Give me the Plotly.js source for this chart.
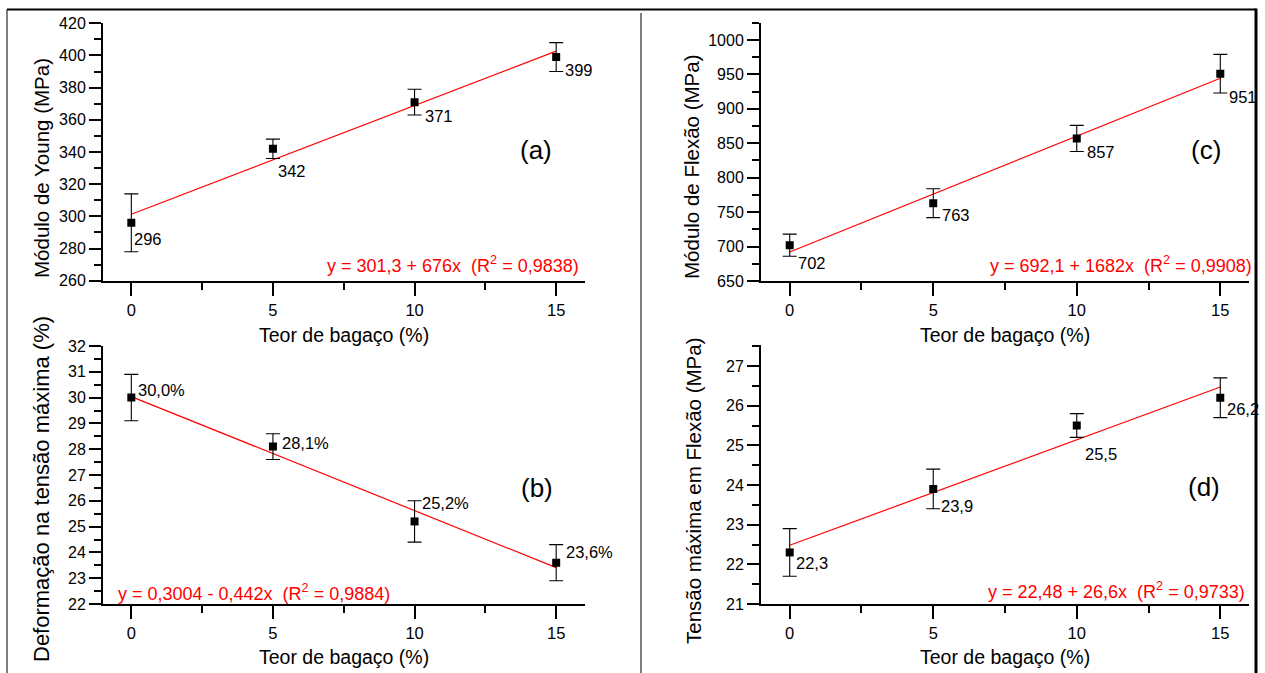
<!DOCTYPE html>
<html>
<head>
<meta charset="utf-8">
<script src="https://cdn.plot.ly/plotly-3.0.1.min.js"></script>
<style>html,body{margin:0;padding:0;background:#fff;}#chart{width:1265px;height:673px;}</style>
</head>
<body>
<div id="chart"></div>
<script>
// ---------- data ----------
const bagasse = [0, 5, 10, 15];              // Teor de bagaço (%)
const youngVals = [296, 342, 371, 399];      // (a) Módulo de Young (MPa)
const youngErr = [18, 6, 8, 9];
const strainVals = [30.0, 28.1, 25.2, 23.6]; // (b) Deformação na tensão máxima (%)
const strainErr = [0.9, 0.5, 0.8, 0.7];
const flexModVals = [702, 763, 857, 951];    // (c) Módulo de Flexão (MPa)
const flexModErr = [16, 21, 19, 28];
const flexStrVals = [22.3, 23.9, 25.5, 26.2];// (d) Tensão máxima em Flexão (MPa)
const flexStrErr = [0.6, 0.5, 0.3, 0.5];

const fitX = [0, 15];
const youngFit = [301.3, 402.7];
const strainFit = [30.04, 23.41];
const flexModFit = [692.1, 944.4];
const flexStrFit = [22.48, 26.47];

const xTickVals = [0, 5, 10, 15];
const eqA = 'y = 301,3 + 676x\u00A0\u00A0(R<sup>2</sup> = 0,9838)';
const eqB = 'y = 0,3004 - 0,442x\u00A0\u00A0(R<sup>2</sup> = 0,9884)';
const eqC = 'y = 692,1 + 1682x\u00A0\u00A0(R<sup>2</sup> = 0,9908)';
const eqD = 'y = 22,48 + 26,6x\u00A0\u00A0(R<sup>2</sup> = 0,9733)';
const xTitle = 'Teor de bagaço (%)';
const yTitleA = 'Módulo de Young (MPa)';
const yTitleB = 'Deformação na tensão máxima (%)';
const yTitleC = 'Módulo de Flexão (MPa)';
const yTitleD = 'Tensão máxima em Flexão (MPa)';

// ---------- layout helpers ----------
const W = 1265, H = 673;
const px = v => v / W;
const py = v => 1 - v / H;
const FONT = 'Liberation Sans, Arial, sans-serif';
const fmt = (v, d) => v.toFixed(d).replace('.', ',');

// label offsets in pixels (dx right, dy down) from each point
const shiftA = [[3, 16], [5, 22], [10, 14], [9, 13]];
const shiftB = [[7, -8], [9, -4], [7, -18], [10, -11]];
const shiftC = [[8, 18], [9, 12], [10, 14], [9, 23]];
const shiftD = [[6, 11], [8, 17], [8, 28], [7, 11]];

const panels = [
  {xa: 'x', ya: 'y', vals: youngVals, err: youngErr, fit: youngFit, lab: youngVals.map(v => fmt(v, 0)), sh: shiftA},
  {xa: 'x2', ya: 'y2', vals: flexModVals, err: flexModErr, fit: flexModFit, lab: flexModVals.map(v => fmt(v, 0)), sh: shiftC},
  {xa: 'x3', ya: 'y3', vals: strainVals, err: strainErr, fit: strainFit, lab: strainVals.map(v => fmt(v, 1) + '%'), sh: shiftB},
  {xa: 'x4', ya: 'y4', vals: flexStrVals, err: flexStrErr, fit: flexStrFit, lab: flexStrVals.map(v => fmt(v, 1)), sh: shiftD}
];

const traces = [];
const annotations = [];
panels.forEach(p => {
  traces.push({x: fitX, y: p.fit, xaxis: p.xa, yaxis: p.ya, mode: 'lines',
    line: {color: '#ff0000', width: 1.2}, hoverinfo: 'skip'});
  traces.push({x: bagasse, y: p.vals, xaxis: p.xa, yaxis: p.ya, mode: 'markers',
    marker: {symbol: 'square', size: 8, color: '#000'},
    error_y: {type: 'data', array: p.err, visible: true, color: '#000', thickness: 1.1, width: 7}});
  p.vals.forEach((v, i) => {
    annotations.push({xref: p.xa, yref: p.ya, x: bagasse[i], y: v, text: p.lab[i],
      showarrow: false, xanchor: 'left', yanchor: 'middle',
      xshift: p.sh[i][0] - 2, yshift: -p.sh[i][1],
      font: {family: FONT, size: 16.5, color: '#000'}});
  });
});

function ann(text, x, y, xanchor, size, color, angle) {
  annotations.push({xref: 'paper', yref: 'paper', x: px(x), y: py(y), text: text,
    showarrow: false, xanchor: xanchor, yanchor: 'middle', textangle: angle || 0,
    font: {family: FONT, size: size, color: color}});
}
// equations
ann(eqA, 581, 265, 'right', 18, '#ff0000');
ann(eqB, 116, 592, 'left', 18, '#ff0000');
ann(eqC, 1254, 265, 'right', 18, '#ff0000');
ann(eqD, 1247, 590, 'right', 18, '#ff0000');
// panel letters
ann('(a)', 536, 150, 'center', 26, '#000');
ann('(b)', 537, 488, 'center', 26, '#000');
ann('(c)', 1206, 150, 'center', 26, '#000');
ann('(d)', 1204, 487, 'center', 26, '#000');
// axis titles
ann(xTitle, 344, 335, 'center', 19.5, '#000');
ann(xTitle, 344, 657, 'center', 19.5, '#000');
ann(xTitle, 1005, 335, 'center', 19.5, '#000');
ann(xTitle, 1005, 657, 'center', 19.5, '#000');
ann(yTitleA, 41, 168, 'center', 20.5, '#000', -90);
ann(yTitleB, 41, 489, 'center', 22, '#000', -90);
ann(yTitleC, 691, 167, 'center', 20.5, '#000', -90);
ann(yTitleD, 693, 491, 'center', 20.5, '#000', -90);

function xAxis(dom, anchor) {
  return {domain: dom, anchor: anchor, range: [-1, 16], tickvals: xTickVals,
    showline: true, linewidth: 2, linecolor: '#000', ticks: 'outside', ticklen: 13, tickwidth: 2, tickcolor: '#000',
    minor: {dtick: 2.5, tick0: 0, ticks: 'outside', ticklen: 7, tickwidth: 2, tickcolor: '#000'},
    showgrid: false, zeroline: false, tickfont: {family: FONT, size: 16.5, color: '#000'}, fixedrange: true};
}
function yAxis(dom, anchor, range, dtick, mdtick) {
  return {domain: dom, anchor: anchor, range: range, dtick: dtick, tick0: range[0],
    showline: true, linewidth: 2, linecolor: '#000', ticks: 'outside', ticklen: 12, tickwidth: 2, tickcolor: '#000',
    minor: {dtick: mdtick, tick0: range[0], ticks: 'outside', ticklen: 7, tickwidth: 2, tickcolor: '#000'},
    showgrid: false, zeroline: false, tickfont: {family: FONT, size: 16, color: '#000'}, fixedrange: true};
}

const leftDom = [px(103), px(584.5)];
const rightDom = [px(761), px(1249)];
const shapes = [
  {type: 'line', xref: 'paper', yref: 'paper', x0: px(7), x1: px(1256), y0: py(9.5), y1: py(9.5), line: {color: '#000', width: 2}},
  {type: 'line', xref: 'paper', yref: 'paper', x0: px(7), x1: px(7), y0: py(9.5), y1: py(673), line: {color: '#000', width: 1}},
  {type: 'line', xref: 'paper', yref: 'paper', x0: px(641), x1: px(641), y0: py(13), y1: py(673), line: {color: '#000', width: 1}},
  {type: 'line', xref: 'paper', yref: 'paper', x0: px(1256), x1: px(1256), y0: py(8.5), y1: py(673), line: {color: '#000', width: 3}}
];

const layout = {
  width: W, height: H, margin: {l: 0, r: 0, t: 0, b: 0, pad: 0},
  paper_bgcolor: '#fff', plot_bgcolor: 'rgba(0,0,0,0)', showlegend: false,
  font: {family: FONT, color: '#000'},
  xaxis: xAxis(leftDom, 'y'),
  yaxis: yAxis([py(280.7), py(23.3)], 'x', [260, 420], 20, 10),
  xaxis2: xAxis(rightDom, 'y2'),
  yaxis2: yAxis([py(281), py(22.6)], 'x2', [650, 1025.2], 50, 25),
  xaxis3: xAxis(leftDom, 'y3'),
  yaxis3: yAxis([py(604), py(346)], 'x3', [22, 32], 1, 0.5),
  xaxis4: xAxis(rightDom, 'y4'),
  yaxis4: yAxis([py(604), py(345)], 'x4', [21, 27.53], 1, 0.5),
  annotations: annotations, shapes: shapes
};

Plotly.newPlot('chart', traces, layout, {displayModeBar: false, staticPlot: true});
</script>
</body>
</html>
